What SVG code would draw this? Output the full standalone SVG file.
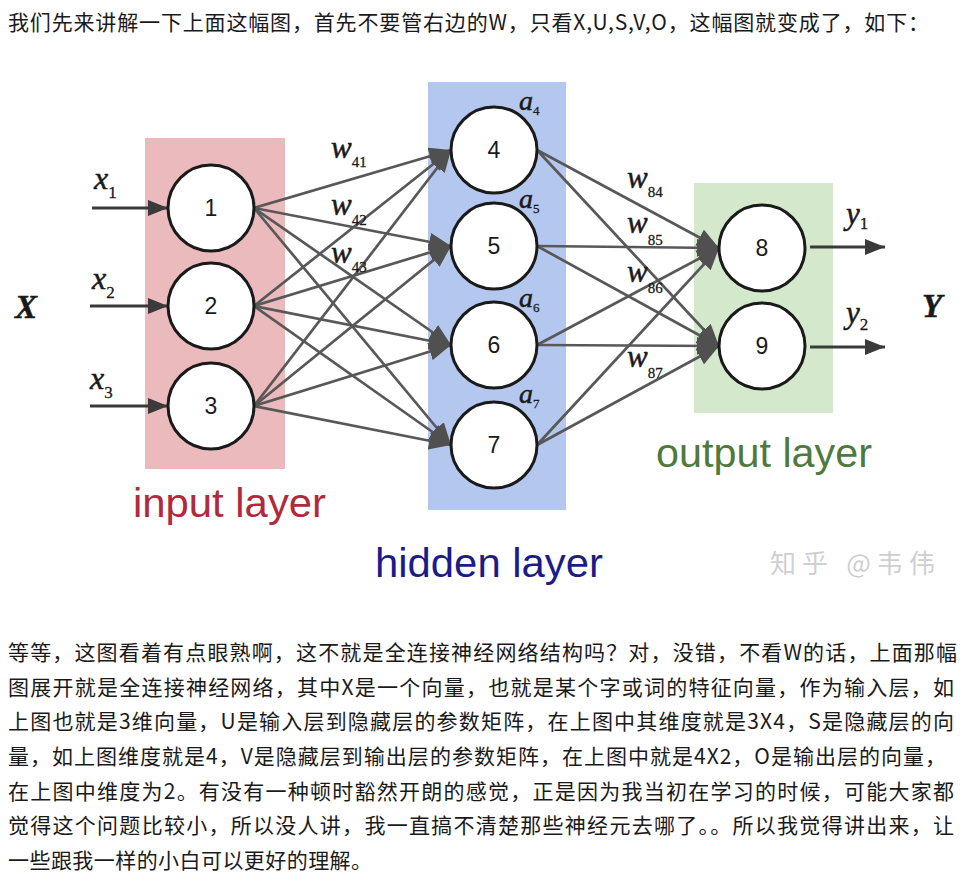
<svg xmlns="http://www.w3.org/2000/svg" width="969" height="884" viewBox="0 0 969 884">
<style>
.cn{font-family:"Noto Sans CJK SC","Noto Sans",sans-serif;font-size:21px;fill:#1a1a1a}
.node circle{fill:#fff;stroke:#1a1a1a;stroke-width:3}
.node text{font-family:"Liberation Sans",Arial,sans-serif;font-size:23px;fill:#1a1a1a;text-anchor:middle}
.edge{stroke:#585858;stroke-width:2.7;fill:none;marker-end:url(#ah)}
.io{stroke:#3a3a3a;stroke-width:3;fill:none;marker-end:url(#ah2)}
.m{font-family:"Liberation Serif","Times New Roman",serif;font-style:italic;fill:#1a1a1a;stroke:#1a1a1a;stroke-width:0.5}
.sub{font-family:"Liberation Serif","Times New Roman",serif;font-style:normal;stroke-width:0.3}
.lay{font-family:"Liberation Sans",Arial,sans-serif;font-size:40px}
</style>
<defs>
<marker id="ah" markerUnits="userSpaceOnUse" markerWidth="22" markerHeight="18" refX="22" refY="9" orient="auto"><path d="M0,0 L22,9 L0,18 z" fill="#505050"/></marker>
<marker id="ah2" markerUnits="userSpaceOnUse" markerWidth="20" markerHeight="16" refX="20" refY="8" orient="auto"><path d="M0,0 L20,8 L0,16 z" fill="#3a3a3a"/></marker>
</defs>
<rect width="969" height="884" fill="#fff"/>
<text class="cn" x="8" y="30" textLength="921" lengthAdjust="spacing">我们先来讲解一下上面这幅图，首先不要管右边的W，只看X,U,S,V,O，这幅图就变成了，如下：</text>

<g id="layers">
<rect x="145" y="138" width="140" height="331" fill="#ebbabd"/>
<rect x="428" y="82" width="138" height="428" fill="#b4c7ef"/>
<rect x="694" y="183" width="139" height="230" fill="#d4e8cb"/>
</g>

<g id="connectors">
<line class="io" x1="92" y1="208" x2="168" y2="208"/>
<line class="io" x1="90" y1="306" x2="168" y2="306"/>
<line class="io" x1="90" y1="406" x2="168" y2="406"/>
<line class="edge" x1="254" y1="208" x2="451" y2="150"/>
<line class="edge" x1="254" y1="208" x2="451" y2="246"/>
<line class="edge" x1="254" y1="208" x2="451" y2="345"/>
<line class="edge" x1="254" y1="208" x2="451" y2="445"/>
<line class="edge" x1="254" y1="306" x2="451" y2="150"/>
<line class="edge" x1="254" y1="306" x2="451" y2="246"/>
<line class="edge" x1="254" y1="306" x2="451" y2="345"/>
<line class="edge" x1="254" y1="306" x2="451" y2="445"/>
<line class="edge" x1="254" y1="406" x2="451" y2="150"/>
<line class="edge" x1="254" y1="406" x2="451" y2="246"/>
<line class="edge" x1="254" y1="406" x2="451" y2="345"/>
<line class="edge" x1="254" y1="406" x2="451" y2="445"/>
<line class="edge" x1="537" y1="150" x2="719" y2="248"/>
<line class="edge" x1="537" y1="150" x2="719" y2="346"/>
<line class="edge" x1="537" y1="246" x2="719" y2="248"/>
<line class="edge" x1="537" y1="246" x2="719" y2="346"/>
<line class="edge" x1="537" y1="345" x2="719" y2="248"/>
<line class="edge" x1="537" y1="345" x2="719" y2="346"/>
<line class="edge" x1="537" y1="445" x2="719" y2="248"/>
<line class="edge" x1="537" y1="445" x2="719" y2="346"/>
<line class="io" x1="810" y1="247" x2="885" y2="247"/>
<line class="io" x1="810" y1="347" x2="885" y2="347"/>
</g>

<g id="n1" class="node"><circle cx="211" cy="208" r="43"/><text x="211" y="216">1</text></g>
<g id="n2" class="node"><circle cx="211" cy="306" r="43"/><text x="211" y="314">2</text></g>
<g id="n3" class="node"><circle cx="211" cy="406" r="43"/><text x="211" y="414">3</text></g>
<g id="n4" class="node"><circle cx="494" cy="150" r="43"/><text x="494" y="158">4</text></g>
<g id="n5" class="node"><circle cx="494" cy="246" r="43"/><text x="494" y="254">5</text></g>
<g id="n6" class="node"><circle cx="494" cy="345" r="43"/><text x="494" y="353">6</text></g>
<g id="n7" class="node"><circle cx="494" cy="445" r="43"/><text x="494" y="453">7</text></g>
<g id="n8" class="node"><circle cx="762" cy="248" r="43"/><text x="762" y="256">8</text></g>
<g id="n9" class="node"><circle cx="762" cy="346" r="43"/><text x="762" y="354">9</text></g>

<g id="labels">
<text class="m" x="94" y="189" font-size="32">x<tspan class="sub" font-size="17" dy="9">1</tspan></text>
<text class="m" x="92" y="289" font-size="32">x<tspan class="sub" font-size="17" dy="9">2</tspan></text>
<text class="m" x="90" y="389" font-size="32">x<tspan class="sub" font-size="17" dy="9">3</tspan></text>
<text class="m" x="15" y="318" font-size="33" font-weight="bold">X</text>
<text class="m" x="331" y="158" font-size="31">w<tspan class="sub" font-size="15" dy="9">41</tspan></text>
<text class="m" x="331" y="215" font-size="31">w<tspan class="sub" font-size="15" dy="10">42</tspan></text>
<text class="m" x="331" y="263" font-size="31">w<tspan class="sub" font-size="15" dy="9">43</tspan></text>
<text class="m" x="627" y="188" font-size="31">w<tspan class="sub" font-size="15" dy="9">84</tspan></text>
<text class="m" x="627" y="233" font-size="31">w<tspan class="sub" font-size="15" dy="12">85</tspan></text>
<text class="m" x="627" y="282" font-size="31">w<tspan class="sub" font-size="15" dy="11">86</tspan></text>
<text class="m" x="627" y="367" font-size="31">w<tspan class="sub" font-size="15" dy="11">87</tspan></text>
<text class="m" x="519" y="110" font-size="28" fill="#1c1c4c" stroke="#1c1c4c">a<tspan class="sub" font-size="13" dy="5">4</tspan></text>
<text class="m" x="519" y="208" font-size="28" fill="#1c1c4c" stroke="#1c1c4c">a<tspan class="sub" font-size="13" dy="5">5</tspan></text>
<text class="m" x="519" y="307" font-size="28" fill="#1c1c4c" stroke="#1c1c4c">a<tspan class="sub" font-size="13" dy="5">6</tspan></text>
<text class="m" x="519" y="403" font-size="28" fill="#1c1c4c" stroke="#1c1c4c">a<tspan class="sub" font-size="13" dy="5">7</tspan></text>
<text class="m" x="846" y="224" font-size="31">y<tspan class="sub" font-size="17" dy="5">1</tspan></text>
<text class="m" x="846" y="323" font-size="31">y<tspan class="sub" font-size="17" dy="7">2</tspan></text>
<text class="m" x="922" y="317" font-size="33" font-weight="bold">Y</text>
<text class="lay" x="133" y="517" fill="#b02a3c" textLength="193" lengthAdjust="spacingAndGlyphs">input layer</text>
<text class="lay" x="375" y="577" fill="#1c1c88" textLength="228" lengthAdjust="spacingAndGlyphs">hidden layer</text>
<text class="lay" x="656" y="467" fill="#4f7a3c" textLength="216" lengthAdjust="spacingAndGlyphs">output layer</text>
<text x="770" y="573" font-family="Noto Sans CJK SC,sans-serif" font-size="26" fill="#cfcfcf" textLength="165" lengthAdjust="spacing">知乎 @韦伟</text>
</g>

<g id="body">
<text class="cn" x="8" y="660" textLength="949" lengthAdjust="spacing">等等，这图看着有点眼熟啊，这不就是全连接神经网络结构吗？对，没错，不看W的话，上面那幅</text>
<text class="cn" x="8" y="695" textLength="946" lengthAdjust="spacing">图展开就是全连接神经网络，其中X是一个向量，也就是某个字或词的特征向量，作为输入层，如</text>
<text class="cn" x="8" y="729" textLength="946" lengthAdjust="spacing">上图也就是3维向量，U是输入层到隐藏层的参数矩阵，在上图中其维度就是3X4，S是隐藏层的向</text>
<text class="cn" x="8" y="764" textLength="938" lengthAdjust="spacing">量，如上图维度就是4，V是隐藏层到输出层的参数矩阵，在上图中就是4X2，O是输出层的向量，</text>
<text class="cn" x="8" y="799" textLength="946" lengthAdjust="spacing">在上图中维度为2。有没有一种顿时豁然开朗的感觉，正是因为我当初在学习的时候，可能大家都</text>
<text class="cn" x="8" y="833" textLength="946" lengthAdjust="spacing">觉得这个问题比较小，所以没人讲，我一直搞不清楚那些神经元去哪了。。所以我觉得讲出来，让</text>
<text class="cn" x="8" y="868" textLength="364" lengthAdjust="spacing">一些跟我一样的小白可以更好的理解。</text>
</g>
</svg>
